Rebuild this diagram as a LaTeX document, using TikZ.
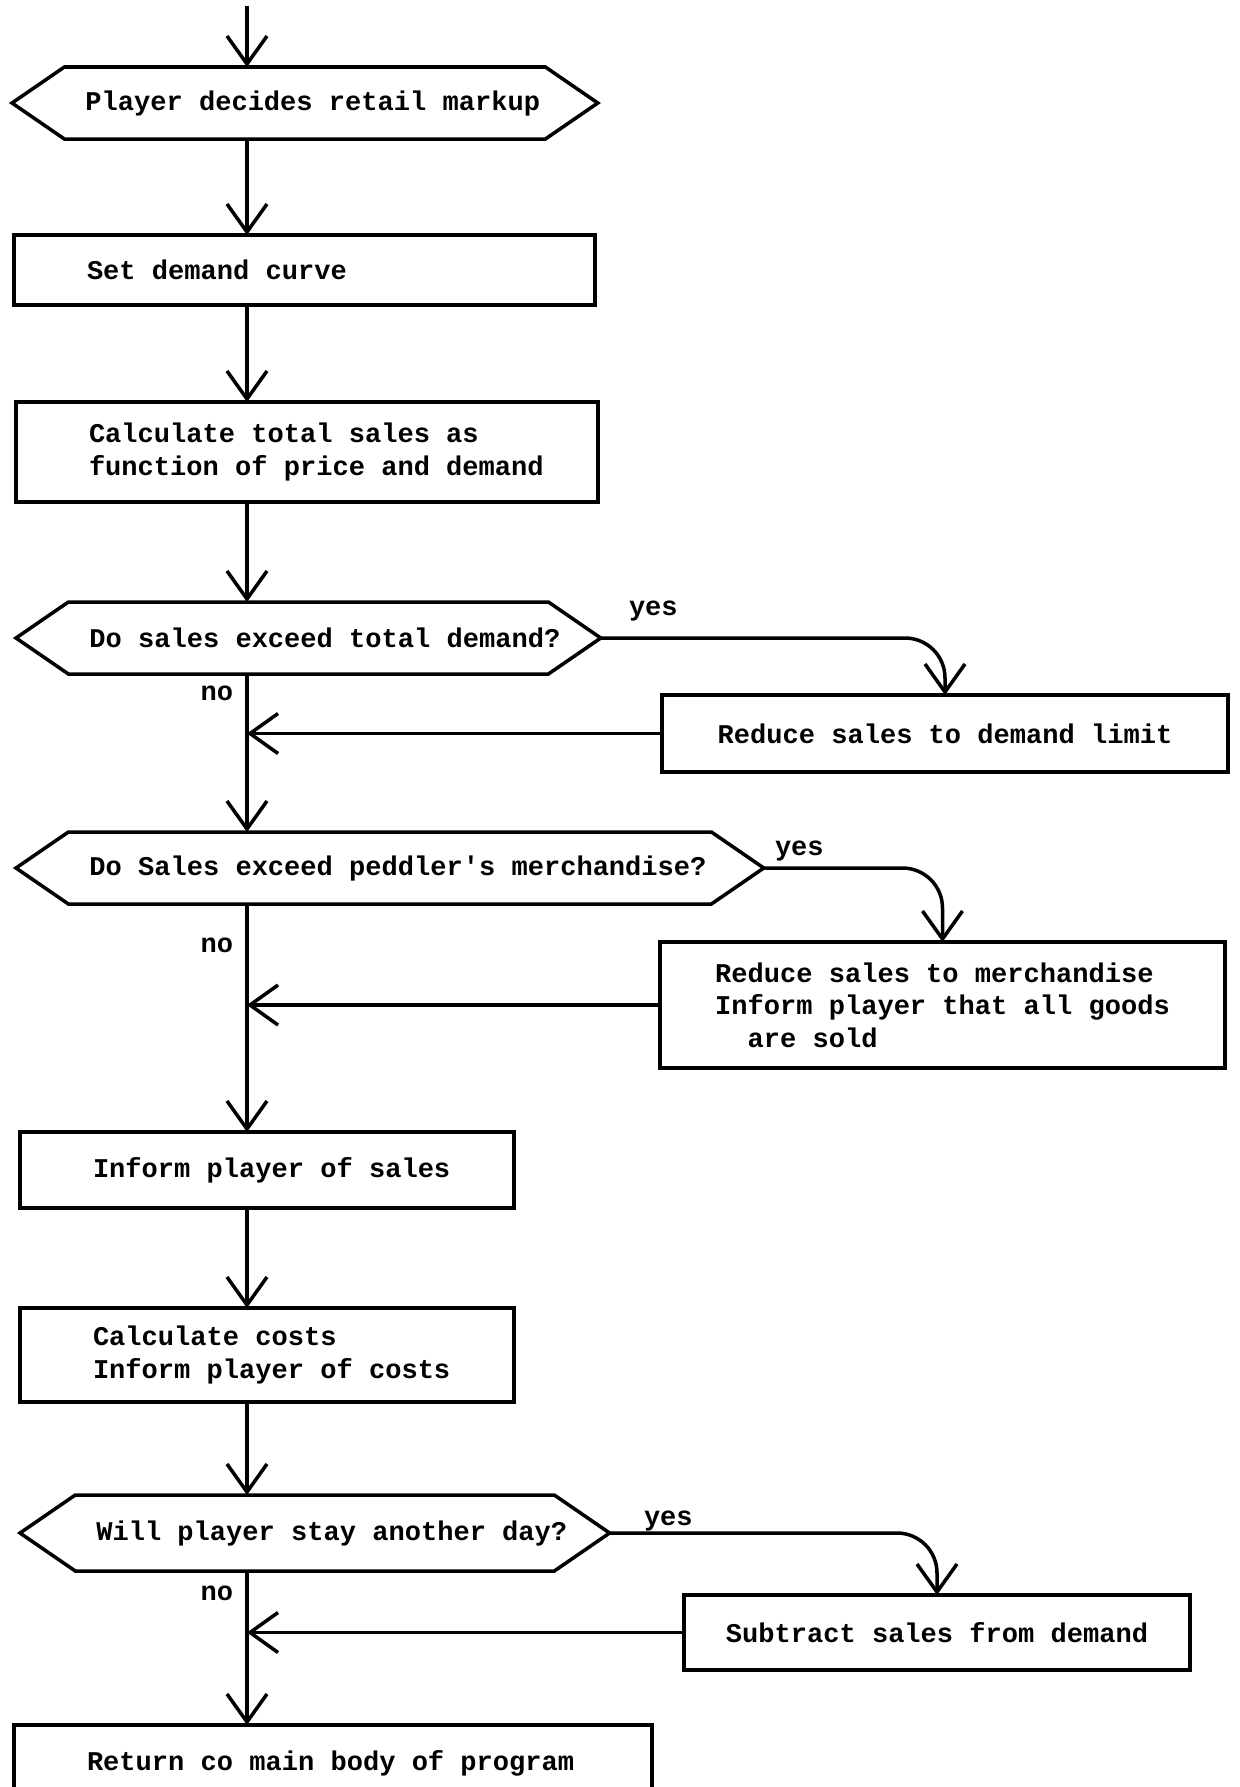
\documentclass[tikz,border=0pt]{standalone}
\usepackage{fontspec}
\setmonofont{Liberation Mono}
\usetikzlibrary{arrows.meta, shapes.symbols}

\begin{document}
\begin{tikzpicture}[x=0.2mm, y=-0.2mm, >={Straight Barb[length=5.6mm, width=8mm]},
    every node/.style={font=\fontsize{15.4pt}{18.5pt}\selectfont\ttfamily\bfseries, outer sep=0pt},
    stepbox/.style={draw, line width=2pt, rectangle, anchor=north west,
      inner xsep=0pt, inner ysep=0pt, align=left,
      execute at begin node={\leftskip=14.6mm\spaceskip=0pt\xspaceskip=0pt}},
    sidebox/.style={draw, line width=2pt, rectangle, inner sep=0pt, align=left},
    askbox/.style={draw, line width=2pt, signal, signal to=east and west,
      signal pointer angle=69, anchor=west, inner xsep=-6mm, inner ysep=0pt,
      minimum height=14.4mm, align=left,
      execute at begin node={\leftskip=10.2mm\spaceskip=0pt\xspaceskip=0pt}},
    tag/.style={inner sep=0pt},
    flow/.style={->, line width=2pt}]

    \useasboundingbox (0,0) rectangle (1240,1787);

    % --- main column ---
    \coordinate (spine) at (247,6);
    \node[askbox, text width=108.2mm] (markup) at (12,103) {Player decides retail markup};
    \node[stepbox, text width=116.2mm, minimum height=14mm] (curve) at (14,235) {Set demand curve};
    \node[stepbox, text width=116.4mm, minimum height=20mm] (total) at (16,402)
      {Calculate total sales as\\function of price and demand};
    \node[askbox, text width=108mm] (demandq) at (16,638) {Do sales exceed total demand?};
    \node[askbox, text width=140.6mm] (stockq) at (16,868) {Do Sales exceed peddler's merchandise?};
    \node[stepbox, text width=98.8mm, minimum height=15.2mm] (report) at (20,1132) {Inform player of sales};
    \node[stepbox, text width=98.8mm, minimum height=18.8mm] (costs) at (20,1308)
      {Calculate costs\\Inform player of costs};
    \node[askbox, text width=107.8mm, minimum height=15.2mm] (stayq) at (20,1533) {Will player stay another day?};
    \node[stepbox, text width=127.6mm, minimum height=15.2mm] (back) at (14,1725) {Return co main body of program};

    % --- side boxes ---
    \node[sidebox, minimum width=113.2mm, minimum height=15.4mm] (limit) at (945,733.5) {Reduce sales to demand limit};
    \node[sidebox, minimum width=113mm, minimum height=25.2mm] (cut) at (942.5,1005)
      {Reduce sales to merchandise\\Inform player that all goods\\\hspace*{1.2em}are sold};
    \node[sidebox, minimum width=101.2mm, minimum height=15mm] (subtract) at (937,1632.5) {Subtract sales from demand};

    % --- yes / no ---
    \node[tag, anchor=base west] (yes1) at (629,615) {yes};
    \node[tag, anchor=base east] (no1) at (233,700) {no};
    \node[tag, anchor=base west] (yes2) at (775,855) {yes};
    \node[tag, anchor=base east] (no2) at (233,952) {no};
    \node[tag, anchor=base west] (yes3) at (644,1525) {yes};
    \node[tag, anchor=base east] (no3) at (233,1600) {no};

    % --- flow down the spine ---
    \draw[flow] (spine) -- (markup.north -| spine);
    \draw[flow] (markup.south -| spine) -- (curve.north -| spine);
    \draw[flow] (curve.south -| spine) -- (total.north -| spine);
    \draw[flow] (total.south -| spine) -- (demandq.north -| spine);
    \draw[flow] (demandq.south -| spine) -- (stockq.north -| spine);
    \draw[flow] (stockq.south -| spine) -- (report.north -| spine);
    \draw[flow] (report.south -| spine) -- (costs.north -| spine);
    \draw[flow] (costs.south -| spine) -- (stayq.north -| spine);
    \draw[flow] (stayq.south -| spine) -- (back.north -| spine);

    % --- yes branches and returns ---
    \draw[flow, rounded corners=8mm] (demandq.east) -| (limit.north);
    \draw[flow] (limit.west) -- (limit.west -| spine);
    \draw[flow, rounded corners=8mm] (stockq.east) -| (cut.north);
    \draw[flow] (cut.west) -- (cut.west -| spine);
    \draw[flow, rounded corners=8mm] (stayq.east) -| (subtract.north);
    \draw[flow] (subtract.west) -- (subtract.west -| spine);

\end{tikzpicture}
\end{document}
